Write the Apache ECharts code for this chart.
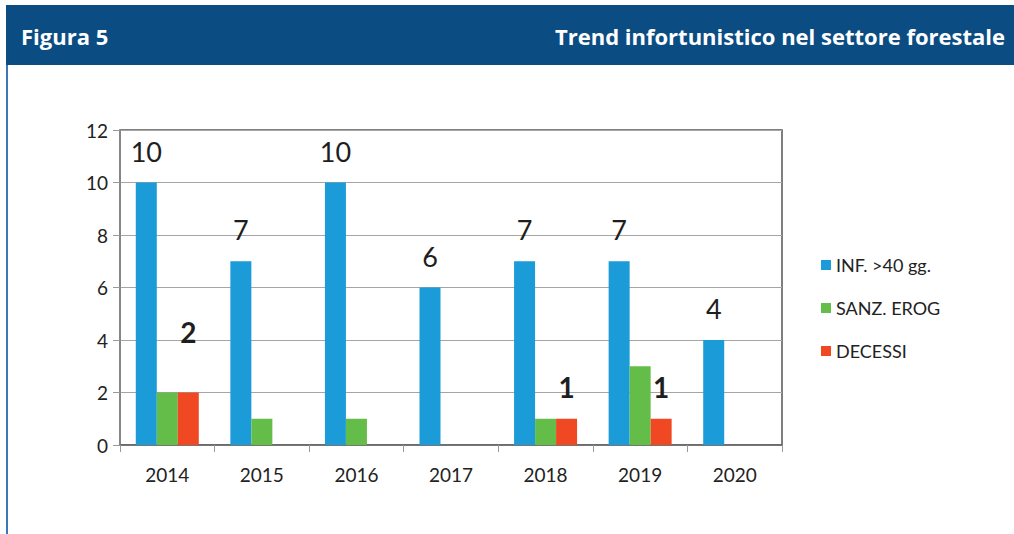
<!DOCTYPE html>
<html>
<head>
<meta charset="utf-8">
<script src="https://cdn.jsdelivr.net/npm/echarts@6/dist/echarts.min.js"></script>
<style>
  body { margin: 0; background: #fff; }
  .wrap { position: relative; width: 1014px; height: 534px; overflow: hidden; }
  .head {
    position: absolute; left: 6px; top: 5px; width: 1008px; height: 60px;
    background: #0b4d83; color: #fff;
    font-family: 'Open Sans', sans-serif; font-weight: 700; font-size: 22px;
  }
  .head .l { position: absolute; left: 15px; top: 16px; }
  .head .r { position: absolute; right: 9px; top: 16px; }
  .side { position: absolute; left: 6px; top: 65px; width: 2px; height: 469px; background: #3b78b4; }
  #chart { position: absolute; left: 0; top: 0; width: 1014px; height: 534px; }
</style>
</head>
<body>
<div class="wrap">
  <div class="head"><span class="l">Figura 5</span><span class="r">Trend infortunistico nel settore forestale</span></div>
  <div class="side"></div>
  <div id="chart"></div>
</div>
<script>
  // dati
  var years = ['2014', '2015', '2016', '2017', '2018', '2019', '2020']
  var infortuni = [10, 7, 10, 6, 7, 7, 4]
  var sanzioni = [2, 1, 1, 0, 1, 3, 0]
  var decessi = [2, 0, 0, 0, 1, 1, 0]
  var yTicks = [0, 2, 4, 6, 8, 10, 12]

  var font = 'Lato, "Open Sans", sans-serif'
  var chart = echarts.init(document.getElementById('chart'), null, { renderer: 'svg' })

  // etichette rosse solo dove c'è un decesso; la prima sta più in alto
  var decessiData = decessi.map(function (v, i) {
    return {
      value: v,
      label: { show: v > 0, offset: i === 0 ? [0, -29] : [0, 0] }
    }
  })

  chart.setOption({
    animation: false,
    textStyle: { fontFamily: font },
    color: ['#1b9bd7', '#64bd48', '#ef4823'],
    grid: {
      left: 120, top: 130, width: 662, height: 315,
      show: true, borderColor: '#555', borderWidth: 1.5, backgroundColor: 'transparent'
    },
    legend: {
      orient: 'vertical',
      left: 816, top: 250,
      itemWidth: 10, itemHeight: 10, itemGap: 23,
      icon: 'rect',
      textStyle: { fontSize: 18, color: '#222', lineHeight: 20, fontFamily: font },
      data: ['INF. >40 gg.', 'SANZ. EROG', 'DECESSI']
    },
    xAxis: {
      type: 'category',
      data: years,
      axisLine: { lineStyle: { color: '#666', width: 1.5 } },
      axisTick: { show: true, length: 7, lineStyle: { color: '#999' } },
      axisLabel: { fontSize: 19, color: '#222', margin: 20 }
    },
    yAxis: {
      type: 'value',
      min: yTicks[0], max: yTicks[yTicks.length - 1], interval: 2,
      axisLine: { show: true, lineStyle: { color: '#888', width: 1.5 } },
      axisTick: { show: true, length: 7, lineStyle: { color: '#999' } },
      axisLabel: { fontSize: 19, color: '#222', margin: 12 },
      splitLine: { lineStyle: { color: '#a5a5a5', width: 1 } }
    },
    series: [
      {
        name: 'INF. >40 gg.', type: 'bar', barWidth: 21, barGap: '0%',
        data: infortuni,
        label: { show: true, position: 'top', distance: 18, fontSize: 27, color: '#1e1e1e' }
      },
      {
        name: 'SANZ. EROG', type: 'bar', barWidth: 21, barGap: '0%',
        data: sanzioni
      },
      {
        name: 'DECESSI', type: 'bar', barWidth: 21, barGap: '0%',
        data: decessiData,
        label: { position: 'top', distance: 18, fontSize: 28, fontWeight: 'bold', color: '#1e1e1e' }
      }
    ]
  })
</script>
</body>
</html>
